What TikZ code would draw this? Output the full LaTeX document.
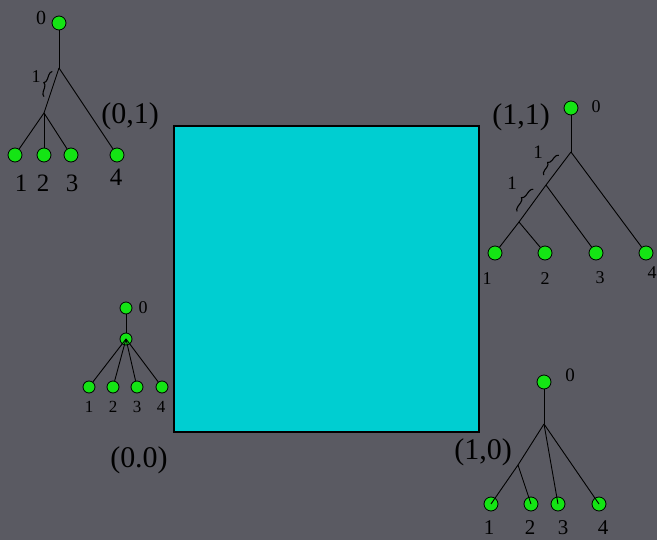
\documentclass[tikz,border=0pt]{standalone}
\usepackage{fontspec}
\setmainfont{Liberation Serif}
\usetikzlibrary{calc,decorations.pathreplacing}
\definecolor{bg}{RGB}{90,90,98}
\definecolor{sqcyan}{RGB}{0,206,209}
\definecolor{leafgreen}{RGB}{20,228,20}

\begin{document}
\begin{tikzpicture}[
x=1pt, y=-1pt,
    leaf/.style={circle, draw, fill=leafgreen, line width=0.8pt, minimum size=14pt, inner sep=0pt},
    sleaf/.style={leaf, minimum size=12pt},
    edge/.style={line width=0.9pt},
    num/.style={inner sep=0pt, font=\fontsize{#1}{#1}\selectfont},
    corner/.style={inner sep=0pt, font=\fontsize{30}{30}\selectfont},
    bracemark/.style={decorate, decoration={brace, amplitude=4.5pt}, line width=1.1pt}
]

% 背景
\useasboundingbox (0,0) rectangle (657,540);
\fill[bg] (0,0) rectangle (657,540);

% 正方形
\node[draw, fill=sqcyan, line width=1.2pt, minimum width=305pt, minimum height=306pt, inner sep=0pt] (sq) at (326.5,279) {};

% 四个角的标号
\node[corner] (c01) at (130,116) {(0,1)};
\node[corner] (c11) at (521,117) {(1,1)};
\node[corner] (c10) at (483,452) {(1,0)};
\node[corner] (c00) at (139,460) {(0.0)};

% 左上的树
\node[leaf] (a0) at (59,23) {};
\coordinate (a5) at (59,68);
\coordinate (a6) at (44,113);
\node[leaf] (a1) at (15,155) {};
\node[leaf] (a2) at (44,155) {};
\node[leaf] (a3) at (71,155) {};
\node[leaf] (a4) at (117,155) {};
\draw[edge] (a0) -- (a5);
\draw[edge] (a5) -- (a6);
\draw[edge] (a5) -- (a4);
\draw[edge] (a6) -- (a1);
\draw[edge] (a6) -- (a2);
\draw[edge] (a6) -- (a3);
\draw[bracemark] ($(a6)!0.33!(a5)+(-5,-1.5)$) -- ($(a6)!0.89!(a5)+(-5,-1.5)$);
\node[num=18] (a7) at (36,77) {1};
\node[num=20] (l0) at (41,18) {0};
\node[num=25] (l1) at (21,183) {1};
\node[num=25] (l2) at (43,183) {2};
\node[num=25] (l3) at (72,183) {3};
\node[num=25] (l4) at (116,177) {4};

% 右上的树
\node[leaf] (b0) at (571,108) {};
\coordinate (b5) at (571,152);
\coordinate (b6) at (546,185);
\coordinate (b7) at (519,222);
\node[leaf] (b1) at (495,253) {};
\node[leaf] (b2) at (545,253) {};
\node[leaf] (b3) at (596,253) {};
\node[leaf] (b4) at (646,253) {};
\draw[edge] (b0) -- (b5);
\draw[edge] (b5) -- (b6) -- (b7);
\draw[edge] (b5) -- (b4);
\draw[edge] (b6) -- (b3);
\draw[edge] (b7) -- (b1);
\draw[edge] (b7) -- (b2);
\draw[bracemark] ($(b6)!0.15!(b5)+(-6,-5)$) -- ($(b6)!0.75!(b5)+(-6,-5)$);
\draw[bracemark] ($(b7)!0.15!(b6)+(-6,-5)$) -- ($(b7)!0.75!(b6)+(-6,-5)$);
\node[num=19] (b8) at (538,152) {1};
\node[num=19] (b9) at (512,183) {1};
\node[num=18] (m0) at (596,107) {0};
\node[num=18] (m1) at (487,279) {1};
\node[num=18] (m2) at (545,279) {2};
\node[num=18] (m3) at (600,278) {3};
\node[num=18] (m4) at (652,273) {4};

% 左边的小树
\node[sleaf] (c0) at (126,308) {};
\node[sleaf] (c5) at (126,339) {};
\node[sleaf] (c1) at (89,387) {};
\node[sleaf] (c2) at (113,387) {};
\node[sleaf] (c3) at (137,387) {};
\node[sleaf] (c4) at (162,387) {};
\draw[edge] (c0) -- (c5);
\draw[edge] (c5.center) -- (c1);
\draw[edge] (c5.center) -- (c2);
\draw[edge] (c5.center) -- (c3);
\draw[edge] (c5.center) -- (c4);
\node[num=18] (n0) at (143,308) {0};
\node[num=17] (n1) at (89,407) {1};
\node[num=17] (n2) at (113,407) {2};
\node[num=17] (n3) at (137,407) {3};
\node[num=17] (n4) at (161,407) {4};

% 右下的树
\node[leaf] (d0) at (544,382) {};
\coordinate (d5) at (544,424);
\coordinate (d6) at (518,465);
\node[leaf] (d1) at (491,504) {};
\node[leaf] (d2) at (531,504) {};
\node[leaf] (d3) at (558,504) {};
\node[leaf] (d4) at (599,504) {};
\draw[edge] (d0) -- (d5);
\draw[edge] (d5) -- (d6);
\draw[edge] (d6) -- (d1.center);
\draw[edge] (d6) -- (d2.center);
\draw[edge] (d5) -- (d3.center);
\draw[edge] (d5) -- (d4.center);
\node[num=19] (k0) at (570,375) {0};
\node[num=21] (k1) at (489,528) {1};
\node[num=21] (k2) at (530,528) {2};
\node[num=21] (k3) at (563,528) {3};
\node[num=21] (k4) at (603,528) {4};

\end{tikzpicture}
\end{document}
